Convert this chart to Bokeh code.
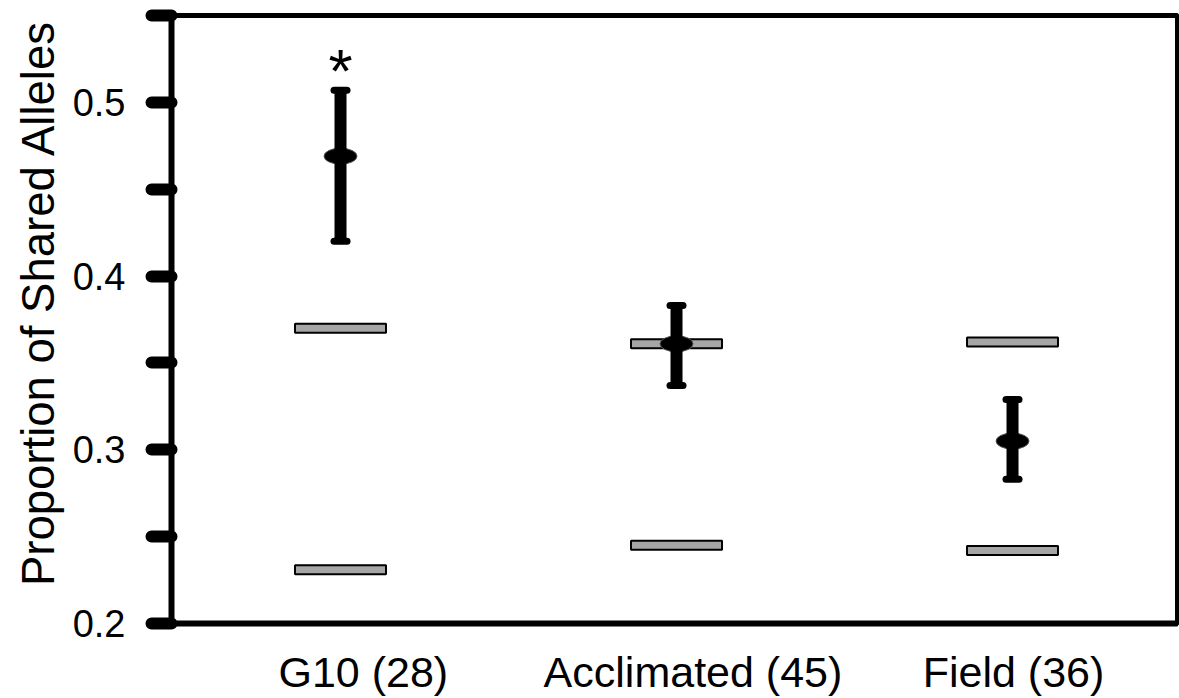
from bokeh.plotting import figure
from bokeh.models import ColumnDataSource, Range1d, FixedTicker, Whisker, TeeHead, Title
from bokeh.core.properties import value
from bokeh.embed import file_html
from bokeh.resources import INLINE

# ---------------- data ----------------
groups = ["G10 (28)", "Acclimated (45)", "Field (36)"]
group_pos = [1, 2, 3]
mean_shared = [0.469, 0.361, 0.305]
ci_upper = [0.507, 0.383, 0.329]
ci_lower = [0.420, 0.337, 0.283]
null_upper = [0.370, 0.361, 0.362]
null_lower = [0.231, 0.245, 0.242]
significance = ["*", "", ""]
y_major_ticks = [0.2, 0.3, 0.4, 0.5]
y_minor_ticks = [0.25, 0.35, 0.45, 0.55]
label_pos = [1.068, 2.049, 3.003]
y_title = "Proportion of Shared Alleles"

# ---------------- layout ----------------
FONT = "Liberation Sans"
W, H = 1179, 698

p = figure(width=W, height=H, output_backend="svg", toolbar_location=None,
           x_range=Range1d(0.497, 3.491), y_range=Range1d(0.2, 0.55),
           min_border_left=171, min_border_right=2,
           min_border_top=15, min_border_bottom=73)
p.grid.visible = False
p.outline_line_color = "black"
p.outline_line_width = 5
p.background_fill_color = "white"
p.border_fill_color = "white"

# y axis
ya = p.yaxis[0]
ya.ticker = FixedTicker(ticks=y_major_ticks, minor_ticks=y_minor_ticks)
ya.axis_line_width = 6
ya.axis_line_color = "black"
for kind in ("major", "minor"):
    setattr(ya, f"{kind}_tick_line_width", 12)
    setattr(ya, f"{kind}_tick_out", 20)
    setattr(ya, f"{kind}_tick_in", 0)
    setattr(ya, f"{kind}_tick_line_cap", "round")
    setattr(ya, f"{kind}_tick_line_color", "black")
ya.major_label_text_font = FONT
ya.major_label_text_font_size = "38px"
ya.major_label_text_color = "black"
ya.major_label_standoff = 26

# x axis
xa = p.xaxis[0]
xa.ticker = FixedTicker(ticks=label_pos)
xa.major_label_overrides = {pos: g for pos, g in zip(label_pos, groups)}
xa.axis_line_width = 6
xa.axis_line_color = "black"
xa.major_tick_line_color = None
xa.minor_tick_line_color = None
xa.major_tick_out = 0
xa.major_tick_in = 0
xa.major_label_text_font = FONT
xa.major_label_text_font_size = "43px"
xa.major_label_text_color = "black"
xa.major_label_standoff = 24

src = ColumnDataSource(dict(x=group_pos, mean=mean_shared, upper=ci_upper,
                            lower=ci_lower, nu=null_upper, nl=null_lower,
                            sig=significance))

# null-range bars
for col in ("nu", "nl"):
    p.rect(x="x", y=col, width=91, height=9, width_units="screen",
           height_units="screen", source=src, fill_color="#a6a6a6",
           line_color="black", line_width=2)

# confidence whiskers
head = dict(size=13, line_width=7, line_cap="round", line_color="black")
wh = Whisker(source=src, base="x", upper="upper", lower="lower",
             dimension="height", line_width=12, line_color="black",
             upper_head=TeeHead(**head), lower_head=TeeHead(**head),
             level="glyph")
p.add_layout(wh)

# means
p.ellipse(x="x", y="mean", width=33, height=16, width_units="screen",
          height_units="screen", source=src, fill_color="black",
          line_color="#555555", line_width=1)

# significance star
p.text(x="x", y="upper", text="sig", source=src, text_font=value(FONT),
       text_font_size="62px", text_align="center", text_baseline="alphabetic",
       y_offset=-20, text_color="black")

# y-axis title
p.add_layout(Title(text=y_title, align="right", offset=4, standoff=12,
                   text_font=FONT, text_font_size="45.5px",
                   text_font_style="normal", text_color="black"), "left")

open("out.html", "w").write(file_html(p, INLINE))
